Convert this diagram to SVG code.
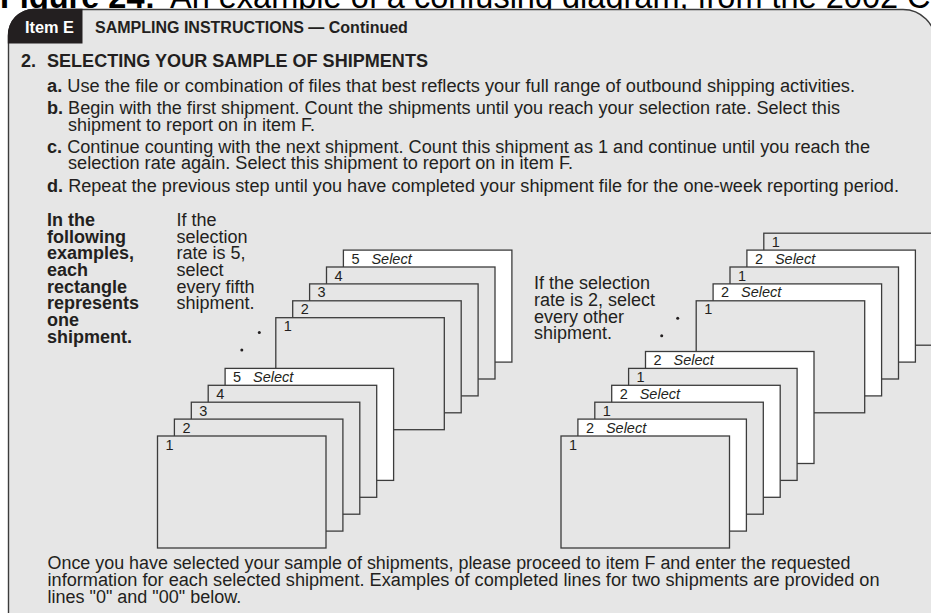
<svg xmlns="http://www.w3.org/2000/svg" width="931" height="613" viewBox="0 0 931 613">
<style>
  text { font-family: "Liberation Sans", Arial, sans-serif; fill: #231f20; }
  .body { font-size: 18px; }
  .bold { font-weight: bold; }
  .hdr { font-size: 16px; font-weight: bold; }
  .lbl { font-size: 14.5px; }
  .sel { font-size: 14.5px; font-style: italic; }
  .card { stroke: #3c3c3c; stroke-width: 1.3; fill: #e6e6e6; }
  .card.w { fill: #ffffff; }
  .dot { fill: #231f20; }
</style>
<rect x="0" y="0" width="931" height="613" fill="#ffffff"/>
<text x="0" y="7.5" style="font-size:32.5px;fill:#000"><tspan font-weight="bold">Figure 24:</tspan></text>
<text x="170" y="7.5" style="font-size:32.5px;fill:#000">An example of a confusing diagram, from the 2002 Co</text>
<path d="M8.5 620 L8.5 36 A26 26 0 0 1 34.5 9.5 L903 9.5 A32.5 32.5 0 0 1 935.5 42 L935.5 620 Z" fill="#e6e6e6" stroke="#3c3c3c" stroke-width="1.4"/>
<path d="M7.8 43.5 L7.8 36 A26 26 0 0 1 33.8 8.8 L82.5 8.8 L82.5 43.5 Z" fill="#231f20"/>
<text x="25" y="33.3" class="hdr" style="fill:#ffffff" textLength="49" lengthAdjust="spacingAndGlyphs">Item E</text>
<text x="95" y="33.3" class="hdr">SAMPLING INSTRUCTIONS — Continued</text>

<text x="21" y="66.7" class="body bold">2.</text>
<text x="47" y="66.7" class="body bold" textLength="381" lengthAdjust="spacingAndGlyphs">SELECTING YOUR SAMPLE OF SHIPMENTS</text>
<text x="47" y="91.7" class="body" textLength="808" lengthAdjust="spacingAndGlyphs"><tspan class="bold">a.</tspan> Use the file or combination of files that best reflects your full range of outbound shipping activities.</text>
<text x="47" y="114" class="body" textLength="793" lengthAdjust="spacingAndGlyphs"><tspan class="bold">b.</tspan> Begin with the first shipment. Count the shipments until you reach your selection rate. Select this</text>
<text x="68" y="130.7" class="body">shipment to report on in item F.</text>
<text x="47" y="152.7" class="body" textLength="823" lengthAdjust="spacingAndGlyphs"><tspan class="bold">c.</tspan> Continue counting with the next shipment. Count this shipment as 1 and continue until you reach the</text>
<text x="68" y="169.3" class="body" textLength="505" lengthAdjust="spacingAndGlyphs">selection rate again. Select this shipment to report on in item F.</text>
<text x="47" y="192.3" class="body" textLength="852" lengthAdjust="spacingAndGlyphs"><tspan class="bold">d.</tspan> Repeat the previous step until you have completed your shipment file for the one-week reporting period.</text>

<g id="note-left">
  <text x="47" y="225.8" class="body bold">In the</text>
  <text x="47" y="242.5" class="body bold">following</text>
  <text x="47" y="259.2" class="body bold">examples,</text>
  <text x="47" y="275.9" class="body bold">each</text>
  <text x="47" y="292.6" class="body bold">rectangle</text>
  <text x="47" y="309.3" class="body bold">represents</text>
  <text x="47" y="326" class="body bold">one</text>
  <text x="47" y="342.7" class="body bold">shipment.</text>
</g>
<g id="note-rate5">
  <text x="176.5" y="225.8" class="body">If the</text>
  <text x="176.5" y="242.5" class="body">selection</text>
  <text x="176.5" y="259.2" class="body">rate is 5,</text>
  <text x="176.5" y="275.9" class="body">select</text>
  <text x="176.5" y="292.6" class="body">every fifth</text>
  <text x="176.5" y="309.3" class="body">shipment.</text>
</g>
<g id="note-rate2">
  <text x="534" y="289.3" class="body">If the selection</text>
  <text x="534" y="305.9" class="body">rate is 2, select</text>
  <text x="534" y="322.5" class="body">every other</text>
  <text x="534" y="339" class="body">shipment.</text>
</g>

<g id="connectors"></g>

<g id="left-stack">
  <g id="L11"><rect class="card w" x="343.4" y="250.1" width="168.5" height="112"/><text class="lbl" x="351.4" y="263.6">5</text><text class="sel" x="371.4" y="263.6">Select</text></g>
  <g id="L10"><rect class="card" x="326.5" y="267" width="168.5" height="112"/><text class="lbl" x="334.5" y="280.5">4</text></g>
  <g id="L9"><rect class="card" x="309.6" y="283.9" width="168.5" height="112"/><text class="lbl" x="317.6" y="297.4">3</text></g>
  <g id="L8"><rect class="card" x="292.7" y="300.8" width="168.5" height="112"/><text class="lbl" x="300.7" y="314.3">2</text></g>
  <g id="L7"><rect class="card" x="275.8" y="317.7" width="168.5" height="112"/><text class="lbl" x="283.8" y="331.2">1</text></g>
  <circle class="dot" cx="259.3" cy="332.5" r="1.5"/>
  <circle class="dot" cx="241.8" cy="350" r="1.5"/>
  <g id="L4"><rect class="card w" x="225.1" y="368.4" width="168.5" height="112"/><text class="lbl" x="233.1" y="381.9">5</text><text class="sel" x="253.1" y="381.9">Select</text></g>
  <g id="L3"><rect class="card" x="208.2" y="385.3" width="168.5" height="112"/><text class="lbl" x="216.2" y="398.8">4</text></g>
  <g id="L2"><rect class="card" x="191.3" y="402.2" width="168.5" height="112"/><text class="lbl" x="199.3" y="415.7">3</text></g>
  <g id="L1"><rect class="card" x="174.4" y="419.1" width="168.5" height="112"/><text class="lbl" x="182.4" y="432.6">2</text></g>
  <g id="L0"><rect class="card" x="157.5" y="436" width="168.5" height="112"/><text class="lbl" x="165.5" y="449.5">1</text></g>
</g>

<g id="right-stack">
  <g id="R12"><rect class="card" x="763.8" y="233.2" width="168.5" height="112"/><text class="lbl" x="771.8" y="246.7">1</text></g>
  <g id="R11"><rect class="card w" x="746.9" y="250.1" width="168.5" height="112"/><text class="lbl" x="754.9" y="263.6">2</text><text class="sel" x="774.9" y="263.6">Select</text></g>
  <g id="R10"><rect class="card" x="730" y="267" width="168.5" height="112"/><text class="lbl" x="738" y="280.5">1</text></g>
  <g id="R9"><rect class="card w" x="713.1" y="283.9" width="168.5" height="112"/><text class="lbl" x="721.1" y="297.4">2</text><text class="sel" x="741.1" y="297.4">Select</text></g>
  <g id="R8"><rect class="card" x="696.2" y="300.8" width="168.5" height="112"/><text class="lbl" x="704.2" y="314.3">1</text></g>
  <circle class="dot" cx="677.7" cy="318.3" r="1.5"/>
  <circle class="dot" cx="661.7" cy="335.7" r="1.5"/>
  <g id="R5"><rect class="card w" x="645.5" y="351.5" width="168.5" height="112"/><text class="lbl" x="653.5" y="365">2</text><text class="sel" x="673.5" y="365">Select</text></g>
  <g id="R4"><rect class="card" x="628.6" y="368.4" width="168.5" height="112"/><text class="lbl" x="636.6" y="381.9">1</text></g>
  <g id="R3"><rect class="card w" x="611.7" y="385.3" width="168.5" height="112"/><text class="lbl" x="619.7" y="398.8">2</text><text class="sel" x="639.7" y="398.8">Select</text></g>
  <g id="R2"><rect class="card" x="594.8" y="402.2" width="168.5" height="112"/><text class="lbl" x="602.8" y="415.7">1</text></g>
  <g id="R1"><rect class="card w" x="577.9" y="419.1" width="168.5" height="112"/><text class="lbl" x="585.9" y="432.6">2</text><text class="sel" x="605.9" y="432.6">Select</text></g>
  <g id="R0"><rect class="card" x="561" y="436" width="168.5" height="112"/><text class="lbl" x="569" y="449.5">1</text></g>
</g>

<g id="footer">
  <text x="47.5" y="569" class="body" textLength="803" lengthAdjust="spacingAndGlyphs">Once you have selected your sample of shipments, please proceed to item F and enter the requested</text>
  <text x="47.5" y="586" class="body" textLength="832" lengthAdjust="spacingAndGlyphs">information for each selected shipment. Examples of completed lines for two shipments are provided on</text>
  <text x="47.5" y="603" class="body">lines "0" and "00" below.</text>
</g>
</svg>
